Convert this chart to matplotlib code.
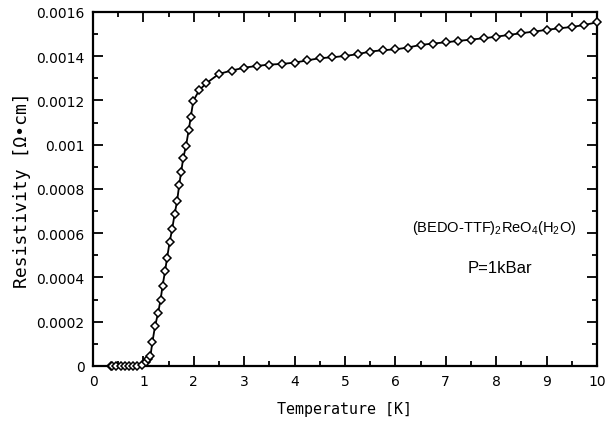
import matplotlib
matplotlib.use("Agg")
import matplotlib.pyplot as plt
from matplotlib.ticker import MultipleLocator, FuncFormatter

temperature = [0.35, 0.38, 0.45, 0.55, 0.63, 0.72, 0.80, 0.88, 0.97, 1.05, 1.10, 1.14,
               1.18, 1.23, 1.29, 1.34, 1.38, 1.43, 1.47, 1.52, 1.57, 1.62, 1.67, 1.71,
               1.75, 1.79, 1.845, 1.90, 1.94, 1.99, 2.11, 2.25, 2.5, 2.75, 3.0, 3.25,
               3.5, 3.75, 4.0, 4.25, 4.5, 4.75, 5.0, 5.25, 5.5, 5.75, 6.0, 6.25, 6.5,
               6.75, 7.0, 7.25, 7.5, 7.75, 8.0, 8.25, 8.5, 8.75, 9.0, 9.25, 9.5, 9.75, 10.0]
resistivity = [0.0, 0.0, 0.0, 0.0, 0.0, 0.0, 0.000001, 0.000002, 0.000006, 0.0000167,
               0.0000316, 0.0000466, 0.00011, 0.000179, 0.000238, 0.000298, 0.000362,
               0.000429, 0.000489, 0.000559, 0.000618, 0.000687, 0.000747, 0.000818,
               0.000878, 0.000939, 0.000994, 0.001067, 0.001125, 0.001198, 0.001247,
               0.001278, 0.00132, 0.001335, 0.001348, 0.001356, 0.001362, 0.001365,
               0.001371, 0.001381, 0.001391, 0.001395, 0.001401, 0.001409, 0.001421,
               0.001427, 0.001431, 0.001439, 0.001451, 0.001457, 0.001463, 0.001469,
               0.001475, 0.001481, 0.001488, 0.001496, 0.001504, 0.001511, 0.001519,
               0.001526, 0.001532, 0.001541, 0.001553]

compound_label = r"(BEDO-TTF)$\mathregular{_2}$ReO$\mathregular{_4}$(H$\mathregular{_2}$O)"
pressure_label = "P=1kBar"
x_label = "Temperature [K]"
y_label = "Resistivity [Ω•cm]"

fig = plt.figure(figsize=(6.16, 4.31), dpi=100)
ax = fig.add_axes([0.151, 0.1485, 0.818, 0.8215])

ax.plot(temperature, resistivity, color="black", linewidth=1.3,
        marker="D", markersize=4.0, markerfacecolor="white",
        markeredgecolor="black", markeredgewidth=1.1, zorder=3, clip_on=False)

ax.set_xlim(0, 10)
ax.set_ylim(0, 0.0016)
ax.xaxis.set_major_locator(MultipleLocator(1))
ax.xaxis.set_minor_locator(MultipleLocator(0.5))
ax.yaxis.set_major_locator(MultipleLocator(0.0002))
ax.yaxis.set_minor_locator(MultipleLocator(0.0001))
ax.yaxis.set_major_formatter(FuncFormatter(lambda v, p: "0" if abs(v) < 1e-12 else ("%g" % round(v, 6))))

ax.tick_params(which="both", direction="in", top=True, right=True, width=1.3,
               labelsize=10, pad=6)
ax.tick_params(which="major", length=7)
ax.tick_params(which="minor", length=3.5)
for s in ax.spines.values():
    s.set_linewidth(1.6)

ax.set_xlabel(x_label, fontsize=10.8, labelpad=9,
              fontfamily="DejaVu Sans Mono")
ax.set_ylabel(y_label, fontsize=13, labelpad=4,
              fontfamily="DejaVu Sans Mono")

ax.text(7.96, 0.000628, compound_label, ha="center", va="center", fontsize=10.5,
        fontfamily=["Liberation Sans", "DejaVu Sans"])
ax.text(8.07, 0.000447, pressure_label, ha="center", va="center", fontsize=12,
        fontfamily=["Liberation Sans", "DejaVu Sans"])

fig.savefig("out.png", dpi=100)
